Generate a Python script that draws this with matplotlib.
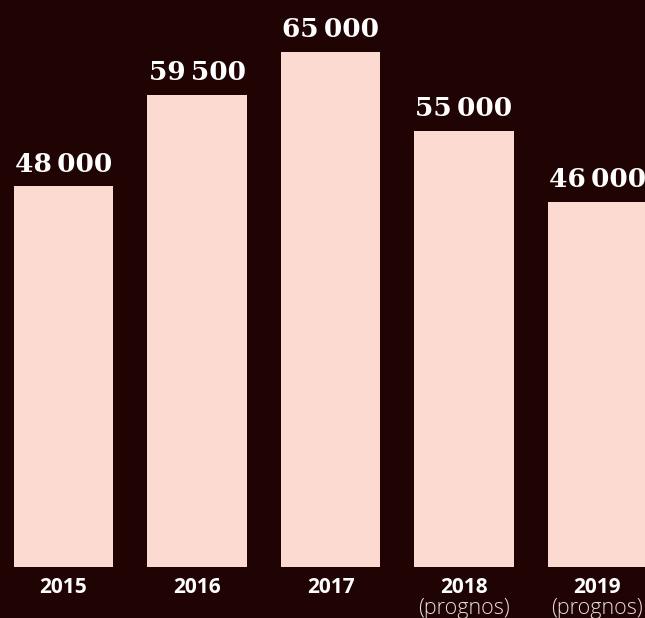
import matplotlib.pyplot as plt
import numpy as np

years = ["2015", "2016", "2017", "2018", "2019"]
subs = ["", "", "", "(prognos)", "(prognos)"]
values = [48000, 59500, 65000, 55000, 46000]
value_labels = ["48\u2009000", "59\u2009500", "65\u2009000", "55\u2009000", "46\u2009000"]

bg = "#200404"
bar_col = "#fcdad1"

fig = plt.figure(figsize=(6.45, 6.18), dpi=100, facecolor=bg)
ax = fig.add_axes([0, 51 / 618, 1, 567 / 618])
ax.set_facecolor(bg)

x = np.arange(len(years))
ax.bar(x, values, width=0.745, color=bar_col, zorder=2)
ax.set_xlim(-0.476, 4.356)
ax.set_ylim(0, 71500)
ax.axis("off")

for xi, v, lab in zip(x, values, value_labels):
    ax.annotate(lab, (xi, v), xytext=(0, 7), textcoords="offset points",
                ha="center", va="bottom", color="white", fontsize=19,
                family="DejaVu Serif", weight="heavy", clip_on=False)

for xi, yr, s in zip(x, years, subs):
    ax.annotate(yr, (xi, 0), xytext=(0, -7), textcoords="offset points",
                ha="center", va="top", color="white", fontsize=15,
                family="Open Sans", weight="bold", annotation_clip=False)
    if s:
        ax.annotate(s, (xi, 0), xytext=(0, -22), textcoords="offset points",
                    ha="center", va="top", color="#e6dcda", fontsize=15.5,
                    family="Open Sans", weight="light", annotation_clip=False)

fig.savefig("out.png", dpi=100, facecolor=bg)
